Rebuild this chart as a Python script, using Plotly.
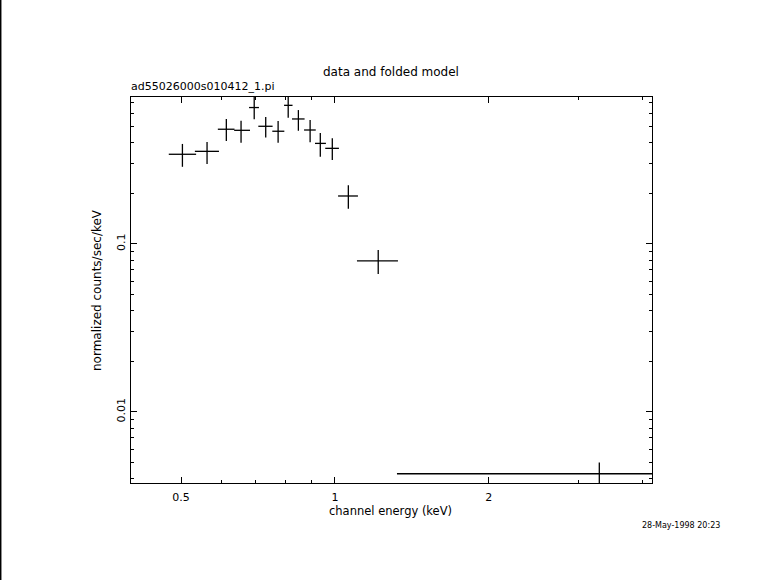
import plotly.graph_objects as go
import numpy as np

# channel energy (keV): bin centre, low edge, high edge
energy = [0.503, 0.562, 0.613, 0.655, 0.695, 0.732, 0.774, 0.810, 0.848, 0.894, 0.936, 0.988, 1.062, 1.215, 3.289]
e_lo = [0.473, 0.532, 0.590, 0.635, 0.679, 0.708, 0.754, 0.795, 0.824, 0.870, 0.914, 0.957, 1.014, 1.104, 1.322]
e_hi = [0.535, 0.593, 0.636, 0.682, 0.710, 0.755, 0.796, 0.826, 0.872, 0.917, 0.960, 1.018, 1.109, 1.328, 5.26]
# normalized counts/sec/keV: value, upper, lower
rate = [0.342, 0.356, 0.482, 0.475, 0.649, 0.502, 0.469, 0.669, 0.555, 0.477, 0.397, 0.371, 0.193, 0.0792, 0.00428]
rate_hi = [0.394, 0.405, 0.555, 0.542, 0.763, 0.570, 0.540, 0.793, 0.627, 0.547, 0.458, 0.426, 0.224, 0.0921, 0.00499]
rate_lo = [0.288, 0.299, 0.410, 0.401, 0.552, 0.430, 0.401, 0.565, 0.472, 0.403, 0.331, 0.316, 0.162, 0.0663, 0.00367]

x_major = [0.5, 1, 2]
x_major_labels = ["0.5", "1", "2"]
x_minor = [0.4, 0.6, 0.7, 0.8, 0.9, 3, 4]
y_major = [0.01, 0.1]
y_major_labels = ["0.01", "0.1"]
y_minor = [0.004, 0.005, 0.006, 0.007, 0.008, 0.009,
           0.02, 0.03, 0.04, 0.05, 0.06, 0.07, 0.08, 0.09,
           0.2, 0.3, 0.4, 0.5, 0.6, 0.7]

x_range = [0.399, 4.17]
y_range = [0.00377, 0.75]

e = np.array(energy)
r = np.array(rate)

fig = go.Figure()
fig.add_trace(go.Scatter(
    x=energy, y=rate, mode="markers",
    marker=dict(size=0.1, color="black", opacity=0),
    error_x=dict(type="data", symmetric=False,
                 array=list(np.array(e_hi) - e), arrayminus=list(e - np.array(e_lo)),
                 color="black", thickness=1.3, width=0),
    error_y=dict(type="data", symmetric=False,
                 array=list(np.array(rate_hi) - r), arrayminus=list(r - np.array(rate_lo)),
                 color="black", thickness=1.3, width=0),
    showlegend=False, hoverinfo="skip",
))

font = dict(family="DejaVu Sans", size=11, color="black")
font12 = dict(family="DejaVu Sans", size=12, color="black")

fig.update_layout(
    width=781, height=580,
    margin=dict(l=131, r=129, t=97, b=97),
    paper_bgcolor="white", plot_bgcolor="white",
    font=font,
    showlegend=False,
    xaxis=dict(
        type="log", range=[np.log10(x_range[0]), np.log10(x_range[1])],
        tickmode="array", tickvals=x_major, ticktext=x_major_labels,
        ticks="inside", ticklen=6, tickwidth=1, tickcolor="black",
        minor=dict(tickmode="array", tickvals=x_minor, ticks="inside", ticklen=3,
                   tickwidth=1, tickcolor="black", showgrid=False),
        showline=True, linecolor="black", linewidth=1.3, mirror="allticks",
        showgrid=False, zeroline=False, tickfont=font, ticklabelstandoff=4,
    ),
    yaxis=dict(
        type="log", range=[np.log10(y_range[0]), np.log10(y_range[1])],
        tickmode="array", tickvals=y_major, ticktext=y_major_labels,
        ticks="inside", ticklen=6, tickwidth=1, tickcolor="black",
        minor=dict(tickmode="array", tickvals=y_minor, ticks="inside", ticklen=3,
                   tickwidth=1, tickcolor="black", showgrid=False),
        showline=True, linecolor="black", linewidth=1.3, mirror="allticks",
        showgrid=False, zeroline=False, tickangle=-90, tickfont=font,
    ),
    annotations=[
        dict(text="data and folded model", xref="paper", yref="paper",
             x=(391 - 131) / 521, y=(483 - 72) / 386, showarrow=False,
             xanchor="center", yanchor="middle", font=font12),
        dict(text="ad55026000s010412_1.pi", xref="paper", yref="paper",
             x=-2 / 521, y=(483 - 87) / 386, showarrow=False,
             xanchor="left", yanchor="middle", font=font),
        dict(text="normalized counts/sec/keV", xref="paper", yref="paper",
             x=-(131 - 97) / 521, y=(483 - 290) / 386, showarrow=False, textangle=-90,
             xanchor="center", yanchor="middle", font=font12),
        dict(text="channel energy (keV)", xref="paper", yref="paper",
             x=(390 - 131) / 521, y=-(511 - 483) / 386, showarrow=False,
             xanchor="center", yanchor="middle",
             font=dict(family="DejaVu Sans", size=11.5, color="black")),
        dict(text="28-May-1998 20:23", xref="paper", yref="paper",
             x=(681 - 131) / 521, y=-(525 - 483) / 386, showarrow=False,
             xanchor="center", yanchor="middle",
             font=dict(family="DejaVu Sans", size=8, color="black")),
    ],
    shapes=[
        dict(type="line", xref="paper", yref="paper",
             x0=-130.3 / 521, x1=-130.3 / 521, y0=-97 / 386, y1=1 + 97 / 386,
             line=dict(color="black", width=1.5)),
    ],
)

fig.write_html("out.html", config={"displayModeBar": False},
               post_script="document.body.style.margin='0';document.body.style.padding='0';")
